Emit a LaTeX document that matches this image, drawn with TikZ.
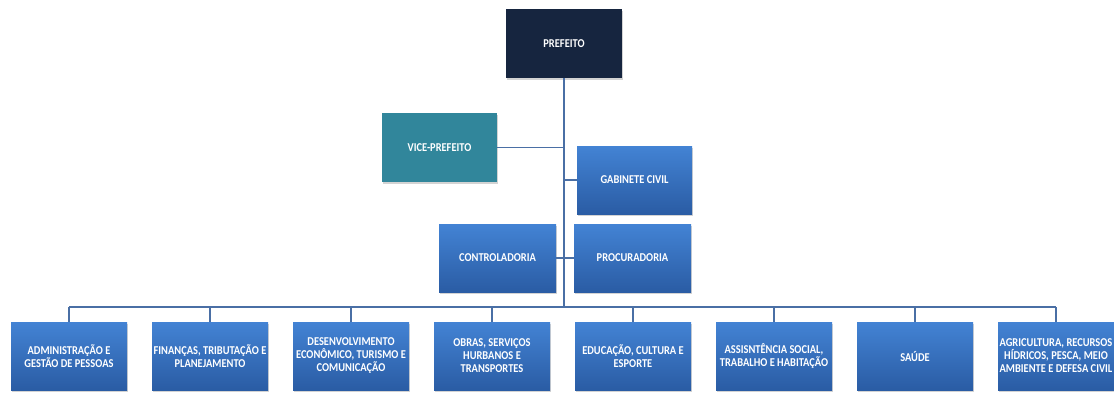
\documentclass[tikz,border=0pt]{standalone}
\usepackage{fontspec}
\setmainfont{Carlito}[FakeStretch=0.87]
\usetikzlibrary{positioning,shadows}
\definecolor{navy}{HTML}{16253F}
\definecolor{teal}{HTML}{31869B}
\definecolor{bluetop}{HTML}{4383D4}
\definecolor{bluebot}{HTML}{2A5CA4}
\definecolor{linecol}{HTML}{4A6FA5}
\tikzset{
  unit/.style={minimum width=116pt, minimum height=68pt, inner sep=1pt,
    align=center, text=white, font=\fontsize{12}{13}\selectfont\bfseries,
    drop shadow={opacity=0.35, shadow xshift=1pt, shadow yshift=-1.5pt}},
  dept/.style={unit, top color=bluetop, bottom color=bluebot},
  link/.style={draw=linecol, line width=1.3pt}
}
\begin{document}
\begin{tikzpicture}[x=1pt, y=-1pt]
  \useasboundingbox (0,0) rectangle (1114,392);
  \node[unit, fill=navy, minimum height=69pt] (pref) at (564,43.5) {PREFEITO};
  \node[unit, fill=teal, minimum height=69pt, minimum width=115pt] (vice) at (439.5,147.5) {VICE-PREFEITO};
  \node[dept, minimum width=115pt] (gab) at (634.5,180) {GABINETE CIVIL};
  \node[dept, minimum width=117pt] (contr) at (497.5,258) {CONTROLADORIA};
  \node[dept, minimum width=117pt] (procur) at (632.5,258) {PROCURADORIA};
  \coordinate (bus) at (564,307);
  % secretarias
  \node[dept] (d1) at (69,356) {ADMINISTRAÇÃO E\\GESTÃO DE PESSOAS};
  \node[dept] (d2) at (210,356) {FINANÇAS, TRIBUTAÇÃO E\\PLANEJAMENTO};
  \node[dept] (d3) at (351,356) {DESENVOLVIMENTO\\ECONÔMICO, TURISMO E\\COMUNICAÇÃO};
  \node[dept] (d4) at (492,356) {OBRAS, SERVIÇOS\\HURBANOS E\\TRANSPORTES};
  \node[dept] (d5) at (633,356) {EDUCAÇÃO, CULTURA E\\ESPORTE};
  \node[dept] (d6) at (774,356) {ASSISNTÊNCIA SOCIAL,\\TRABALHO E HABITAÇÃO};
  \node[dept] (d7) at (915,356) {SAÚDE};
  \node[dept] (d8) at (1056,356) {AGRICULTURA, RECURSOS\\HÍDRICOS, PESCA, MEIO\\AMBIENTE E DEFESA CIVIL};
  \begin{scope}[link]
    \draw (pref.south) -- (pref.south |- bus);
    \draw (vice.east) -- (vice.east -| pref.south);
    \draw (gab.west) -- (gab.west -| pref.south);
    \draw (contr.east) -- (procur.west);
    \draw (d1.north |- bus) -- (d8.north |- bus);
    \foreach \d in {d1,d2,d3,d4,d5,d6,d7,d8}
      \draw (\d.north) -- (\d.north |- bus);
  \end{scope}
\end{tikzpicture}
\end{document}
